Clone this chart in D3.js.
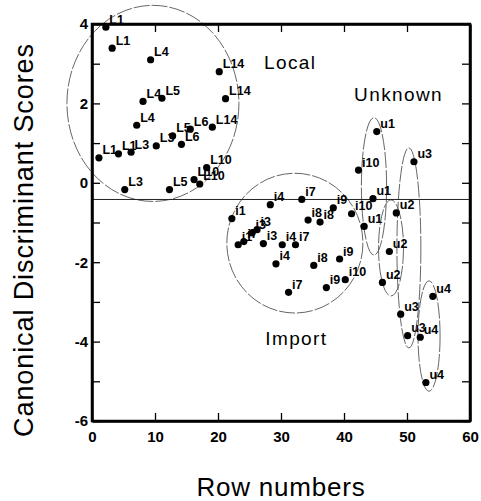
<!DOCTYPE html>
<html><head><meta charset="utf-8">
<script src="https://cdn.jsdelivr.net/npm/d3@7"></script>
<style>body{margin:0;background:#fff}svg{display:block}</style>
</head><body>
<script>
// ---- data ----
const localX = [2.2,3.2,9.3,20.2,8.1,11.1,21.2,7.1,12.8,14.2,15.6,19.1,1.1,4.2,6.2,10.2,5.2,12.3,16.2,17.1,18.2];
const localY = [3.92,3.39,3.10,2.80,2.05,2.13,2.12,1.45,1.18,0.97,1.35,1.40,0.63,0.73,0.77,0.93,-0.17,-0.17,0.08,-0.03,0.38];
const localLabels = ["L1","L1","L4","L14","L4","L5","L14","L4","L5","L6","L6","L14","L1","L1","L3","L3","L3","L5","L10","L10","L10"];

const importX = [22.2,28.3,33.3,38.3,34.3,36.2,41.2,23.2,24.1,25.4,26.2,27.2,30.2,32.3,29.2,35.2,39.3,37.2,40.2,31.2,42.3];
const importY = [-0.90,-0.55,-0.42,-0.63,-0.94,-0.99,-0.78,-1.56,-1.48,-1.26,-1.18,-1.53,-1.56,-1.56,-2.04,-2.08,-1.92,-2.64,-2.44,-2.76,0.32];
const importLabels = ["i1","i4","i7","i9","i8","i8","i10","i1","i7","i3","i3","i3","i4","i7","i4","i8","i9","i9","i10","i7","i10"];

const unknownX = [45.2,43.2,44.6,48.3,47.2,46.1,51.1,49.0,50.1,54.1,52.1,53.0];
const unknownY = [1.29,-1.10,-0.40,-0.76,-1.73,-2.51,0.53,-3.31,-3.85,-2.86,-3.89,-5.03];
const unknownLabels = ["u1","u1","u1","u2","u2","u2","u3","u3","u3","u4","u4","u4"];

// group ellipses (centre and radii in data units)
const ellipseCx = [9.67,32.2,44.76,47.46,50.3,53.5];
const ellipseCy = [2.0,-1.52,-0.09,-1.64,-1.64,-3.86];
const ellipseRx = [13.65,10.8,2.0,1.98,1.9,1.75];
const ellipseRy = [2.47,1.76,1.73,1.21,2.52,1.39];

const groupNames = ["Local","Unknown","Import"];
const groupNameX = [27.3,41.6,27.5];
const groupNameY = [2.87,2.07,-4.08];

const refLineY = -0.42;
const xTicks = [0,10,20,30,40,50,60];
const yTicks = [-6,-5,-4,-3,-2,-1,0,1,2,3,4];
const yTickLabels = ["-6","-4","-2","0","2","4"];
const yLabeled = [-6,-4,-2,0,2,4];

// ---- drawing ----
const W = 481, H = 501;
const FONT = "'Liberation Sans', Arial, Helvetica, sans-serif";
const svg = d3.select("body").append("svg").attr("width", W).attr("height", H);

const x = d3.scaleLinear().domain([0,60]).range([92,470]);
const y = d3.scaleLinear().domain([-6,4]).range([421,24]);

// ellipses
svg.append("g").selectAll("ellipse").data(ellipseCx).join("ellipse")
  .attr("cx", (d,i) => x(d))
  .attr("cy", (d,i) => y(ellipseCy[i]))
  .attr("rx", (d,i) => x(d + ellipseRx[i]) - x(d))
  .attr("ry", (d,i) => y(ellipseCy[i]) - y(ellipseCy[i] + ellipseRy[i]))
  .attr("fill", "none").attr("stroke", "#555").attr("stroke-width", 0.9)
  .attr("stroke-dasharray", "16,2");

// reference line
svg.append("line").attr("x1", x(0)).attr("x2", x(60))
  .attr("y1", y(refLineY)).attr("y2", y(refLineY))
  .attr("stroke", "#222").attr("stroke-width", 1);

// axes (frame with inward ticks)
const axB = svg.append("g").attr("transform", `translate(0,${y(-6)})`)
  .call(d3.axisBottom(x).tickValues(xTicks).tickSize(-8).tickPadding(10).tickSizeOuter(0));
const axT = svg.append("g").attr("transform", `translate(0,${y(4)})`)
  .call(d3.axisTop(x).tickValues(xTicks).tickSize(-8).tickFormat("").tickSizeOuter(0));
const axL = svg.append("g").attr("transform", `translate(${x(0)},0)`)
  .call(d3.axisLeft(y).tickValues(yTicks).tickSize(-8).tickPadding(6).tickSizeOuter(0)
    .tickFormat(d => yLabeled.includes(d) ? yTickLabels[yLabeled.indexOf(d)] : ""));
const axR = svg.append("g").attr("transform", `translate(${x(60)},0)`)
  .call(d3.axisRight(y).tickValues(yTicks).tickSize(-8).tickFormat("").tickSizeOuter(0));

[axB, axT, axL, axR].forEach(g => {
  g.select(".domain").attr("stroke", "#000").attr("stroke-width", 2.5);
  g.selectAll(".tick line").attr("stroke", "#000").attr("stroke-width", 1.3);
  g.selectAll("text").attr("font-family", FONT).attr("font-size", 15)
    .attr("font-weight", "bold").attr("fill", "#000");
});
axL.selectAll("text").attr("dx", 2);
svg.append("rect").attr("x", x(0)).attr("y", y(4)).attr("width", x(60)-x(0)).attr("height", y(-6)-y(4))
  .attr("fill", "none").attr("stroke", "#000").attr("stroke-width", 2.5);

// points and labels
function drawGroup(xs, ys, labels) {
  const g = svg.append("g");
  g.selectAll("circle").data(xs).join("circle")
    .attr("cx", d => x(d)).attr("cy", (d,i) => y(ys[i])).attr("r", 3.6).attr("fill", "#000");
  g.selectAll("text").data(labels).join("text")
    .attr("x", (d,i) => x(xs[i]) + 3.5).attr("y", (d,i) => y(ys[i]) - 3.5)
    .attr("font-family", FONT).attr("font-size", 12.5).attr("font-weight", "bold")
    .attr("fill", "#000").text(d => d);
}
drawGroup(localX, localY, localLabels);
drawGroup(importX, importY, importLabels);
drawGroup(unknownX, unknownY, unknownLabels);

// group names
svg.append("g").selectAll("text").data(groupNames).join("text")
  .attr("x", (d,i) => x(groupNameX[i])).attr("y", (d,i) => y(groupNameY[i]))
  .attr("font-family", FONT).attr("font-size", 19).attr("letter-spacing", 1.4)
  .attr("fill", "#000").text(d => d);

// axis titles
svg.append("text").attr("x", (x(0)+x(60))/2).attr("y", 496)
  .attr("text-anchor", "middle").attr("font-family", FONT).attr("font-size", 26)
  .attr("letter-spacing", 0.8).attr("fill", "#000").text("Row numbers");
svg.append("text").attr("transform", "translate(33,240) rotate(-90)")
  .attr("text-anchor", "middle").attr("font-family", FONT).attr("font-size", 27)
  .attr("letter-spacing", 0.9).attr("fill", "#000").text("Canonical Discriminant Scores");
</script>
</body></html>
